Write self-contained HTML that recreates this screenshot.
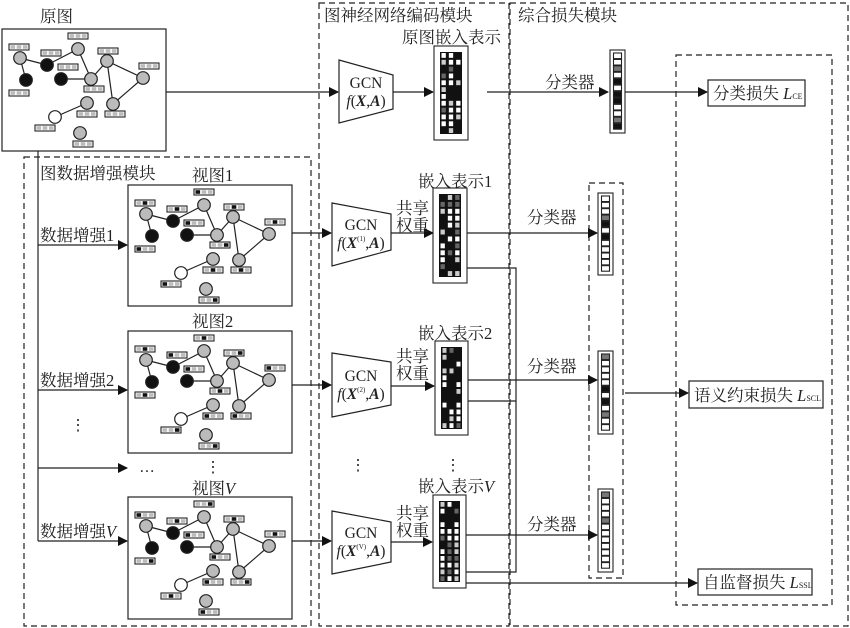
<!DOCTYPE html>
<html><head><meta charset="utf-8">
<style>
html,body{margin:0;padding:0;background:#fff;}
svg{display:block;}
text{font-family:"Liberation Serif","Noto Serif CJK SC",serif;fill:#222;}
</style></head><body>
<svg id="s" width="850" height="628" viewBox="0 0 850 628" xmlns="http://www.w3.org/2000/svg">
<defs>
<marker id="ar" markerWidth="10" markerHeight="10" refX="9" refY="5" orient="auto" markerUnits="userSpaceOnUse">
<path d="M0,0 L10,5 L0,10 z" fill="#111"/></marker>
<g id="graph" stroke="#222" stroke-width="1.2">
<line x1="20" y1="58" x2="47" y2="65"/><line x1="20" y1="58" x2="26" y2="80"/>
<line x1="47" y1="65" x2="78" y2="49"/><line x1="78" y1="49" x2="91" y2="79"/>
<line x1="61" y1="79" x2="91" y2="79"/><line x1="91" y1="79" x2="107" y2="61"/>
<line x1="107" y1="61" x2="143" y2="78"/><line x1="107" y1="61" x2="113" y2="104"/>
<line x1="143" y1="78" x2="113" y2="104"/><line x1="87" y1="103" x2="55" y2="117"/>
<circle cx="20" cy="58" r="6.3" fill="#bbb"/><circle cx="47" cy="65" r="6.3" fill="#111"/>
<circle cx="26" cy="80" r="6.3" fill="#111"/><circle cx="78" cy="49" r="6.3" fill="#bbb"/>
<circle cx="61" cy="79" r="6.3" fill="#111"/><circle cx="91" cy="79" r="6.3" fill="#bbb"/>
<circle cx="107" cy="61" r="6.3" fill="#bbb"/><circle cx="143" cy="78" r="6.3" fill="#bbb"/>
<circle cx="113" cy="104" r="6.3" fill="#bbb"/><circle cx="87" cy="103" r="6.3" fill="#bbb"/>
<circle cx="55" cy="117" r="6.3" fill="#fff"/><circle cx="80" cy="133" r="6.3" fill="#bbb"/>
</g>
</defs>
<g id="main" fill="none" stroke="#222" stroke-width="1.2">
<rect x="24" y="157" width="287" height="469" stroke-dasharray="6,4"/>
<rect x="319" y="3" width="190" height="623" stroke-dasharray="6,4"/>
<rect x="510" y="3" width="338" height="623" stroke-dasharray="6,4"/>
<rect x="676" y="55" width="156" height="550" stroke-dasharray="6,4"/>
<rect x="589" y="183" width="34" height="395" stroke-dasharray="6,4"/>
<rect x="2" y="29" width="164" height="122"/>
<rect x="128" y="185" width="164" height="121"/>
<rect x="128" y="331" width="164" height="122"/>
<rect x="128" y="497" width="164" height="122"/>
<line x1="38" y1="151" x2="38" y2="541"/>
<line x1="38" y1="245" x2="127" y2="245" marker-end="url(#ar)"/>
<line x1="38" y1="390" x2="127" y2="390" marker-end="url(#ar)"/>
<line x1="38" y1="468" x2="127" y2="468" marker-end="url(#ar)"/>
<line x1="38" y1="541" x2="127" y2="541" marker-end="url(#ar)"/>
<line x1="166" y1="92" x2="338" y2="92" marker-end="url(#ar)"/>
<line x1="292" y1="233" x2="331" y2="233" marker-end="url(#ar)"/>
<line x1="292" y1="385" x2="331" y2="385" marker-end="url(#ar)"/>
<line x1="292" y1="541" x2="331" y2="541" marker-end="url(#ar)"/>
<polygon points="339,60 393,75 393,109 339,123" fill="#fff"/>
<polygon points="332,203 391,214 391,250 332,266" fill="#fff"/>
<polygon points="332,353 391,362 391,405 332,417" fill="#fff"/>
<polygon points="332,511 391,522 391,562 332,574" fill="#fff"/>
<line x1="393" y1="92" x2="433" y2="92" marker-end="url(#ar)"/>
<line x1="391" y1="233" x2="433" y2="233" marker-end="url(#ar)"/>
<line x1="391" y1="386" x2="434" y2="386" marker-end="url(#ar)"/>
<line x1="391" y1="542" x2="432" y2="542" marker-end="url(#ar)"/>
<line x1="487" y1="92" x2="608" y2="92" marker-end="url(#ar)"/>
<line x1="467" y1="233" x2="597" y2="233" marker-end="url(#ar)"/>
<line x1="468" y1="380" x2="597" y2="380" marker-end="url(#ar)"/>
<line x1="466" y1="535" x2="597" y2="535" marker-end="url(#ar)"/>
<polyline points="467,268 516,268 516,572 466,572"/>
<line x1="468" y1="401" x2="516" y2="401"/>
<line x1="466" y1="583" x2="697" y2="583" marker-end="url(#ar)"/>
<line x1="625" y1="92" x2="707" y2="92" marker-end="url(#ar)"/>
<line x1="625" y1="393" x2="688" y2="393" marker-end="url(#ar)"/>
<rect x="708" y="80" width="97" height="26" fill="#fff"/>
<rect x="689" y="381" width="134" height="27" fill="#fff"/>
<rect x="698" y="569" width="114" height="26" fill="#fff"/>
</g>
<use href="#graph" x="0" y="0"/>
<use href="#graph" x="126" y="156"/>
<use href="#graph" x="126" y="302"/>
<use href="#graph" x="126" y="468"/>
<g id="dyn"></g>
<g font-size="16.5">
<text x="40" y="22">原图</text>
<text x="40" y="179">图数据增强模块</text>
<text x="192" y="181">视图1</text>
<text x="192" y="327">视图2</text>
<text x="192" y="494">视图<tspan font-style="italic">V</tspan></text>
<text x="40" y="241">数据增强1</text>
<text x="40" y="386">数据增强2</text>
<text x="40" y="537">数据增强<tspan font-style="italic">V</tspan></text>
<text x="324" y="21">图神经网络编码模块</text>
<text x="402" y="43">原图嵌入表示</text>
<text x="418" y="187">嵌入表示1</text>
<text x="418" y="339">嵌入表示2</text>
<text x="418" y="492">嵌入表示<tspan font-style="italic">V</tspan></text>
<text x="518" y="21">综合损失模块</text>
<text x="545" y="88">分类器</text>
<text x="527" y="223">分类器</text>
<text x="527" y="372">分类器</text>
<text x="527" y="530">分类器</text>
<text x="396" y="214">共享</text><text x="396" y="231">权重</text>
<text x="396" y="362">共享</text><text x="396" y="379">权重</text>
<text x="396" y="519">共享</text><text x="396" y="536">权重</text>
<text x="713" y="99">分类损失 <tspan font-style="italic">L</tspan><tspan font-size="8">CE</tspan></text>
<text x="694" y="401">语义约束损失 <tspan font-style="italic">L</tspan><tspan font-size="8">SCL</tspan></text>
<text x="703" y="588">自监督损失 <tspan font-style="italic">L</tspan><tspan font-size="8">SSL</tspan></text>
</g>
<g font-size="15.5" text-anchor="middle">
<text x="366" y="88">GCN</text><text x="366" y="106"><tspan font-style="italic">f</tspan>(<tspan font-weight="bold" font-style="italic">X</tspan>,<tspan font-weight="bold" font-style="italic">A</tspan>)</text>
<text x="361" y="230">GCN</text><text x="361" y="248"><tspan font-style="italic">f</tspan>(<tspan font-weight="bold" font-style="italic">X</tspan><tspan font-size="7" dy="-7">(1)</tspan><tspan dy="7">,</tspan><tspan font-weight="bold" font-style="italic">A</tspan>)</text>
<text x="361" y="381">GCN</text><text x="361" y="399"><tspan font-style="italic">f</tspan>(<tspan font-weight="bold" font-style="italic">X</tspan><tspan font-size="7" dy="-7">(2)</tspan><tspan dy="7">,</tspan><tspan font-weight="bold" font-style="italic">A</tspan>)</text>
<text x="361" y="538">GCN</text><text x="361" y="556"><tspan font-style="italic">f</tspan>(<tspan font-weight="bold" font-style="italic">X</tspan><tspan font-size="7" dy="-7">(V)</tspan><tspan dy="7">,</tspan><tspan font-weight="bold" font-style="italic">A</tspan>)</text>
<text x="78" y="430">⋮</text><text x="147" y="472">…</text>
<text x="213" y="472">⋮</text><text x="358" y="470">⋮</text><text x="453" y="470">⋮</text>
</g>
</svg>
<script>
(function(){
var NS="http://www.w3.org/2000/svg",g=document.getElementById("dyn");
function r(x,y,w,h,f,s){var e=document.createElementNS(NS,"rect");e.setAttribute("x",x);e.setAttribute("y",y);e.setAttribute("width",w);e.setAttribute("height",h);e.setAttribute("fill",f||"none");if(s){e.setAttribute("stroke",s);e.setAttribute("stroke-width","1.1");}g.appendChild(e);}
var seed=7;function rnd(){seed=(seed*9301+49297)%233280;return seed/233280;}
var fv=[[9,44],[41,50],[68,33],[58,64],[98,48],[139,63],[9,90],[84,86],[77,111],[105,111],[35,125],[73,141]];
[[0,0,0],[126,156,1],[126,302,1],[126,468,1]].forEach(function(b){
 fv.forEach(function(p){var x=b[0]+p[0],y=b[1]+p[1];r(x,y,20,6,"#fff","#222");
  var k=b[2]?Math.floor(rnd()*3):-1;
  for(var i=0;i<3;i++){r(x+1.5+i*6.2,y+1.2,4.6,3.6,i==k?"#111":"#bbb");}
 });
});
function emb(x,y,w,h){r(x,y,w,h,"#fff","#222");var ix=x+6,iy=y+6,iw=w-12,ih=h-12;r(ix,iy,iw,ih,"#111");
 var rows=Math.floor(ih/6.6),cw=iw/3,rh=ih/rows;
 for(var j=0;j<rows;j++)for(var i=0;i<3;i++){var v=rnd();var c=v<0.3?"#111":v<0.65?"#fff":v<0.85?"#ccc":"#666";
  if(c!="#111")r(ix+i*cw+1.5,iy+j*rh+1,cw-3,rh-2,c);}
}
emb(434,46,34,94);emb(433,188,34,95);emb(435,341,33,94);emb(433,495,33,93);
function cls(x,y,h){r(x,y,15,h,"#fff","#222");var n=12,rh=(h-6)/n;
 for(var j=0;j<n;j++){var v=rnd();var c=v<0.65?"#fff":v<0.82?"#111":"#777";r(x+3.5,y+3+j*rh,8,rh-0.8,c,"#222");}
}
cls(610,50,83);cls(598,193,82);cls(598,351,83);cls(598,489,83);
})();
</script>
</body></html>
